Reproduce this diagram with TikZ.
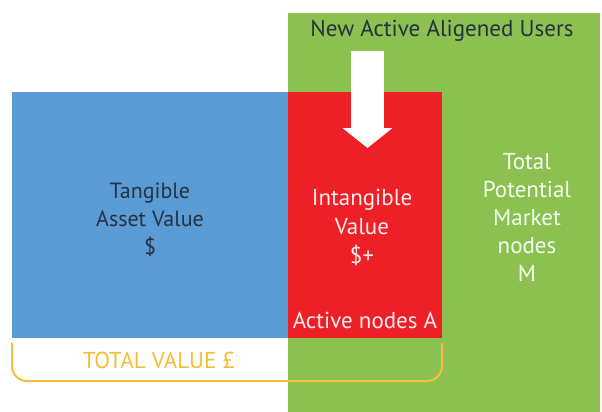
\documentclass[tikz,border=0pt]{standalone}
\usepackage{fontspec}
\setmainfont{PT Sans}
\usetikzlibrary{arrows.meta}
\definecolor{tblue}{HTML}{5B9BD5}
\definecolor{ired}{HTML}{EE2027}
\definecolor{mgreen}{HTML}{8CC152}
\definecolor{tyellow}{HTML}{F4BE35}
\definecolor{darktext}{HTML}{26323F}
\tikzset{
  area/.style={rectangle, inner sep=0pt, outer sep=0pt, anchor=north west},
  label/.style={align=center, font=\fontsize{22}{28}\selectfont},
}
\begin{document}
\begin{tikzpicture}[x=1pt,y=-1pt]
   \useasboundingbox (0,0) rectangle (602,412);
   \node[area, fill=mgreen, minimum width=312pt, minimum height=399pt] (market) at (288,13) {};
   \node[area, fill=tblue, minimum width=276pt, minimum height=246pt] (tangible) at (12,92) {};
   \node[area, fill=ired, minimum width=154pt, minimum height=246pt] (intangible) at (288,92) {};
   \node[label, darktext, font=\fontsize{23}{28}\selectfont] (title) at (442,31) {New Active Aligened Users};
   \coordinate (arrtop) at (367.5,51);
   \coordinate (arrtip) at (367.5,148);
   \draw[white, line width=33pt, -{Triangle[width=49pt,length=20pt]}] (arrtop) -- (arrtip);
   \node[label, darktext] (tav) at (150,220) {Tangible\\Asset Value\\\$};
   \node[label, red!8, font=\fontsize{23}{29}\selectfont] (iv) at (362,228) {Intangible\\Value\\\$+};
   \node[label, red!8, font=\fontsize{23}{28}\selectfont] (act) at (365,320) {Active nodes A};
   \node[label, green!6!white, font=\fontsize{23}{28}\selectfont] (tpm) at (527,217) {Total\\Potential\\Market\\nodes\\M};
   \draw[tyellow, line width=2pt, rounded corners=15pt] ([yshift=-5pt]tangible.south west) -- ([yshift=-43pt]tangible.south west) -- ([yshift=-43pt]intangible.south east) -- ([yshift=-5pt]intangible.south east);
   \node[label, tyellow, font=\fontsize{23}{28}\selectfont] (tv) at (159,360) {TOTAL VALUE £};
 \end{tikzpicture}
\end{document}
